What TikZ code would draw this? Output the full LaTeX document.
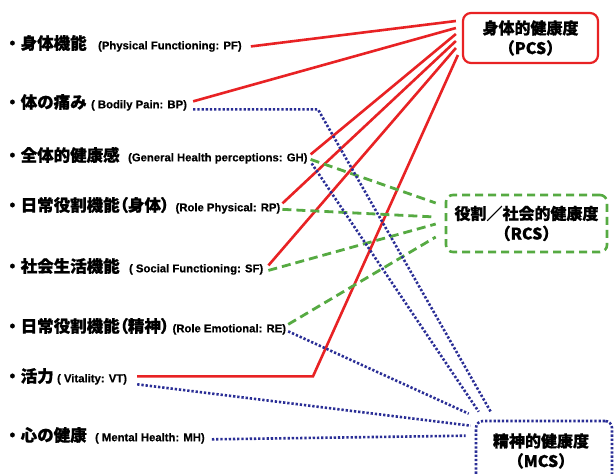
\documentclass[tikz,border=0pt]{standalone}
\usepackage{fontspec}
\setmainfont{Liberation Sans}
\newfontfamily\jpf{Noto Sans CJK JP}[BoldFeatures={FakeBold=0.8}]
\newfontfamily\jpp{Noto Sans CJK JP}[RawFeature=+palt,BoldFeatures={FakeBold=0.8}]
\newfontfamily\enf{Liberation Sans}[BoldFeatures={FakeBold=0.4}]
\usetikzlibrary{calc}
\definecolor{cred}{RGB}{232,34,36}
\definecolor{cgreen}{RGB}{86,170,66}
\definecolor{cblue}{RGB}{42,46,150}
\begin{document}
\begin{tikzpicture}[x=1pt,y=-1pt,
  jp/.style={anchor=west, inner sep=0pt, font=\jpf\bfseries\fontsize{16.5}{18}\selectfont},
  en/.style={anchor=base west, inner sep=0pt, font=\enf\bfseries\fontsize{11.3}{12}\selectfont},
  redl/.style={cred, line width=2.6pt},
  grnl/.style={cgreen, line width=2.8pt, dash pattern=on 9pt off 5pt},
  blul/.style={cblue, line width=2.6pt, dash pattern=on 2.3pt off 1.9pt},
  box/.style={align=center, font=\jpf\bfseries\fontsize{16}{20}\selectfont, inner sep=0pt, fill=white},
  boxtext/.style={align=center, font=\jpf\bfseries\fontsize{16}{20}\selectfont, inner sep=0pt},
]
\useasboundingbox (0,0) rectangle (616,474);
\fill[white] (0,0) rectangle (616,474);

% result boxes
\node[box, draw=cred, line width=2.2pt, rounded corners=8pt, minimum width=135pt, minimum height=50pt] (pcs) at (530.5,38) {身体的健康度\\（PCS）};
\node[box, draw=cgreen, line width=2.6pt, dash pattern=on 8pt off 5pt, rounded corners=7pt, minimum width=161pt, minimum height=57pt] (rcs) at (526.5,223.5) {役割／社会的健康度\\（RCS）};
\node[box, draw=cblue, line width=2.6pt, dash pattern=on 2.3pt off 1.9pt, rounded corners=7pt, minimum width=136pt, minimum height=90pt] (mcs) at (544,466) {};
\node[boxtext] (mcst) at (541,451) {精神的健康度\\（MCS）};

% labels
\node[jp] (pfj) at (4,43) {・身体機能};
\node[en] (pfe) at ($(pfj.base east)+(11,0)$) {(Physical Functioning: PF)};
\node[jp] (bpj) at (4,102) {・体の痛み};
\node[en] (bpe) at ($(bpj.base east)+(4,0)$) {( Bodily Pain: BP)};
\node[jp] (ghj) at (4,155) {・全体的健康感};
\node[en] (ghe) at ($(ghj.base east)+(8,0)$) {(General Health perceptions: GH)};
\node[jp] (rpj) at (4,205) {・日常役割機能{\jpp（}身体{\jpp）}};
\node[en] (rpe) at ($(rpj.base east)+(6,0)$) {(Role Physical: RP)};
\node[jp] (sfj) at (4,266) {・社会生活機能};
\node[en] (sfe) at ($(sfj.base east)+(9,0)$) {( Social Functioning: SF)};
\node[jp] (rej) at (4,326) {・日常役割機能{\jpp（}精神{\jpp）}};
\node[en] (ree) at ($(rej.base east)+(3,0)$) {(Role Emotional: RE)};
\node[jp] (vtj) at (4,376) {・活力};
\node[en] (vte) at ($(vtj.base east)+(3,0)$) {( Vitality: VT)};
\node[jp] (mhj) at (4,435) {・心の健康};
\node[en] (mhe) at ($(mhj.base east)+(8,0)$) {( Mental Health: MH)};

\coordinate (bpk) at (318,0);
\coordinate (vtk) at (313,0);

% PCS (red)
\draw[redl] ($(pfe.east)+(9,0)$) -- ($(pcs.west)+(-6,-17)$);
\draw[redl] ($(bpe.east)+(6,-4)$) -- ($(pcs.west)+(-6,-10)$);
\draw[redl] ($(ghe.east)+(3,-4)$) -- ($(pcs.west)+(-6,-4)$);
\draw[redl] ($(rpe.east)+(2,-5)$) -- ($(pcs.west)+(-6,3)$);
\draw[redl] ($(sfe.east)+(5,-4)$) -- ($(pcs.west)+(-6,10)$);
\draw[redl] ($(vte.east)+(10,-3)$) coordinate (vs) -- (vs -| vtk) -- ($(pcs.west)+(-4,17)$);

% RCS (green dashed)
\draw[grnl] ($(ghe.east)+(3,1)$) -- ($(rcs.west)+(-9,-20.5)$);
\draw[grnl] ($(rpe.east)+(2,1)$) -- ($(rcs.west)+(-9,-6.5)$);
\draw[grnl] ($(sfe.east)+(5,1)$) -- ($(rcs.west)+(-9,0.5)$);
\draw[grnl] ($(ree.east)+(2,-5)$) -- ($(rcs.west)+(-9,13.5)$);

% MCS (blue dotted)
\draw[blul] ($(bpe.east)+(6,4)$) coordinate (bs) -- (bs -| bpk) -- ($(mcs.north west)+(16,-8)$);
\draw[blul] ($(ghe.east)+(4,5)$) -- ($(mcs.north west)+(4,-8)$);
\draw[blul] ($(ree.east)+(2,2)$) -- ($(mcs.north west)+(-6,-6)$);
\draw[blul] ($(vte.east)+(10,5)$) -- ($(mcs.north west)+(-4,6)$);
\draw[blul] ($(mhe.east)+(7,1)$) -- ($(mcs.north west)+(-9,16)$);
\end{tikzpicture}
\end{document}
